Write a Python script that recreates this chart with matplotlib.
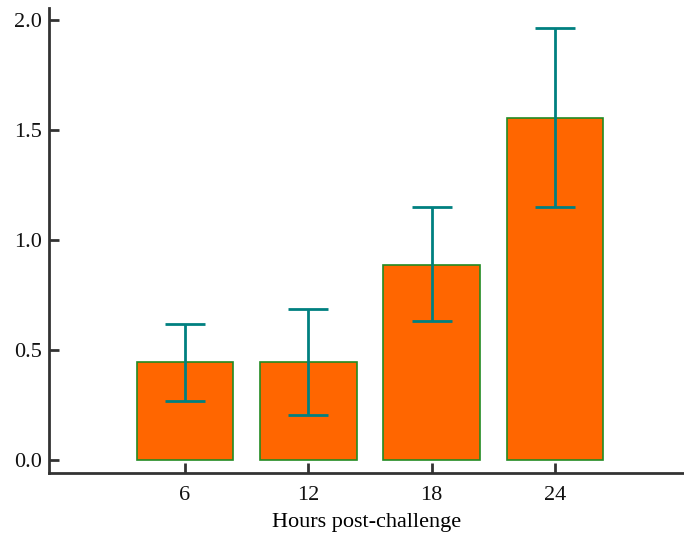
import matplotlib.pyplot as plt
import numpy as np

hours = [6, 12, 18, 24]
means = [0.445, 0.445, 0.886, 1.555]
err_low = [0.268, 0.205, 0.632, 1.15]
err_high = [0.618, 0.686, 1.15, 1.964]
y_ticks = [0.0, 0.5, 1.0, 1.5, 2.0]

plt.rcParams['font.family'] = ['Liberation Serif', 'DejaVu Serif']
plt.rcParams['font.size'] = 16

fig = plt.figure(figsize=(6.84, 5.4), dpi=100)
ax = fig.add_axes([49 / 684, 1 - 473 / 540, 1 - 49 / 684, (473 - 8) / 540])

m = np.array(means)
yerr = [m - np.array(err_low), np.array(err_high) - m]
ax.bar(hours, means, width=4.7, color='#ff6600', edgecolor='#228b22', linewidth=1.2)
ax.errorbar(hours, means, yerr=yerr, fmt='none', ecolor='#008080',
            elinewidth=2, capsize=14.5, capthick=2)

ax.set_xlim(-0.615, 30.27)
ax.set_ylim(-13 / 220, 2 + 12 / 220)
ax.set_xticks(hours)
ax.set_yticks(y_ticks)
ax.set_yticklabels([f"{v:.1f}" for v in y_ticks])
ax.set_xlabel("Hours post-challenge", labelpad=6)

for s in ['top', 'right']:
    ax.spines[s].set_visible(False)
for s in ['left', 'bottom']:
    ax.spines[s].set_color('#333333')
    ax.spines[s].set_linewidth(2)
ax.tick_params(direction='in', length=7, width=2, color='#333333', labelcolor='#111111')
ax.tick_params(axis='x', pad=9)
ax.tick_params(axis='y', pad=5)

fig.savefig("out.png", dpi=100)
